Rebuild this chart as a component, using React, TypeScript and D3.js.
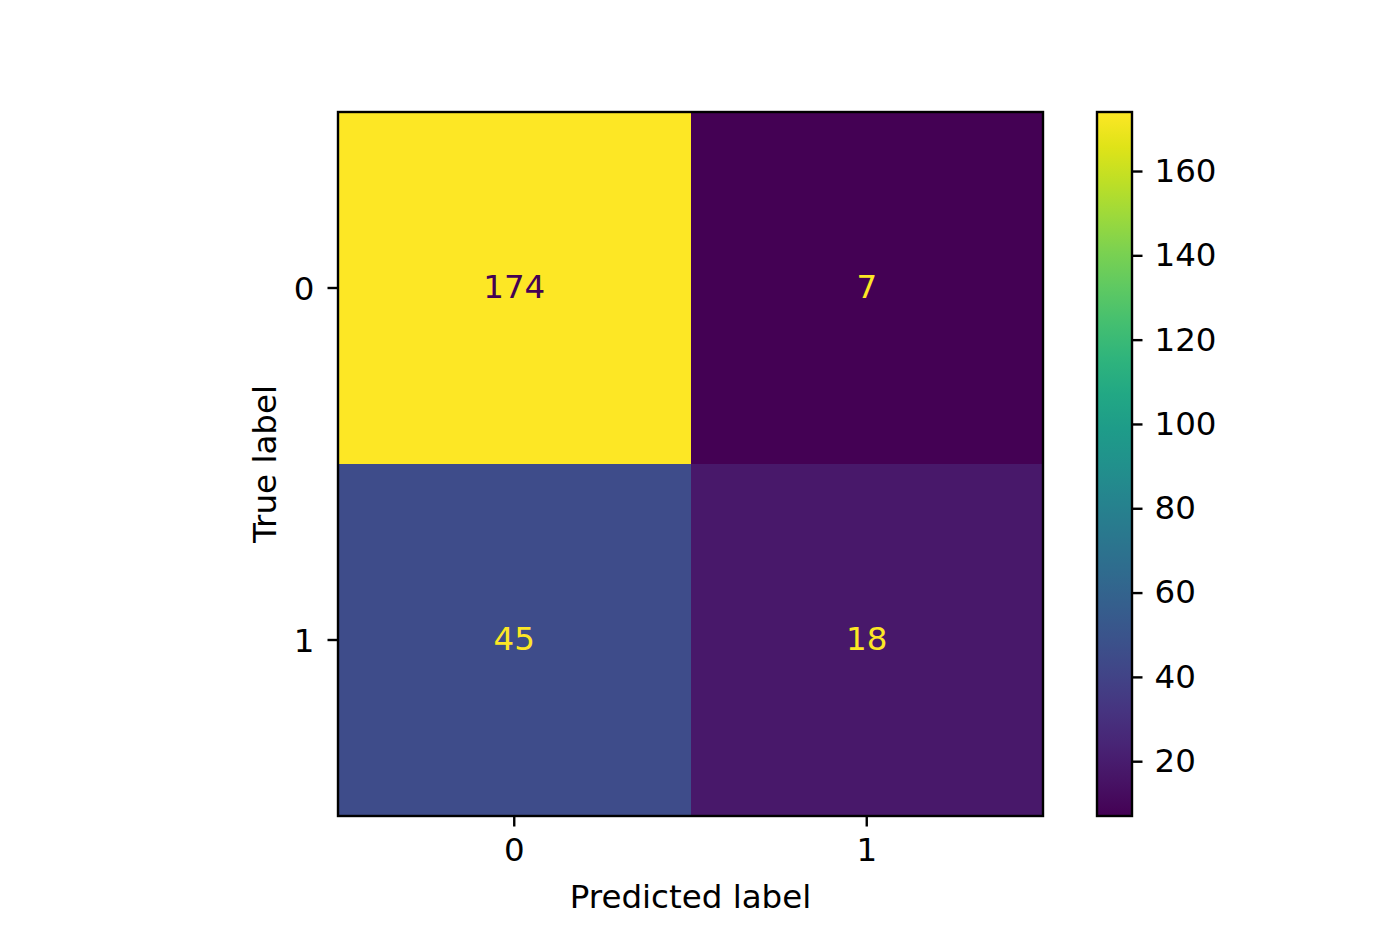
import React, { useEffect, useRef } from "react";
import * as d3 from "d3";

// 클래스 라벨과 혼동행렬 값
const classLabels = ["0", "1"];
const row0 = [174, 7];
const row1 = [45, 18];
const matrixRows = [row0, row1];
const colorbarTicks = [20, 40, 60, 80, 100, 120, 140, 160];

const W = 1400;
const H = 933;
const FONT = "'DejaVu Sans', sans-serif";

const App: React.FC = () => {
  const svgRef = useRef<SVGSVGElement>(null);

  useEffect(() => {
    if (!svgRef.current) return;
    const svg = d3.select(svgRef.current);
    svg.selectAll("*").remove();

    // 축 영역
    const left = 338;
    const right = 1043;
    const top = 112;
    const bottom = 816;
    const fs = 32.5;
    const tickLen = 10.5;
    const lw = 2.4;

    const flat = matrixRows.flat();
    const vmin = d3.min(flat) as number;
    const vmax = d3.max(flat) as number;
    const color = d3.scaleSequential(d3.interpolateViridis).domain([vmin, vmax]);

    const x = d3.scaleBand<string>().domain(classLabels).range([left, right]).padding(0);
    const y = d3.scaleBand<string>().domain(classLabels).range([top, bottom]).padding(0);

    const cells = matrixRows.flatMap((row, i) =>
      row.map((v, j) => ({ r: classLabels[i], c: classLabels[j], v }))
    );

    const g = svg.append("g");

    // 셀
    g.selectAll("rect.cell")
      .data(cells)
      .enter()
      .append("rect")
      .attr("class", "cell")
      .attr("x", (d) => x(d.c)!)
      .attr("y", (d) => y(d.r)!)
      .attr("width", x.bandwidth())
      .attr("height", y.bandwidth())
      .attr("fill", (d) => color(d.v))
      .attr("shape-rendering", "crispEdges");

    // 셀 값 텍스트 (밝은 셀은 어두운 글자)
    const thresh = (vmin + vmax) / 2;
    g.selectAll("text.val")
      .data(cells)
      .enter()
      .append("text")
      .attr("class", "val")
      .attr("x", (d) => x(d.c)! + x.bandwidth() / 2)
      .attr("y", (d) => y(d.r)! + y.bandwidth() / 2)
      .attr("dy", "0.3em")
      .attr("text-anchor", "middle")
      .style("font-family", FONT)
      .style("font-size", `${fs}px`)
      .attr("fill", (d) => (d.v < thresh ? color(vmax) : color(vmin)))
      .text((d) => d.v);

    // 테두리
    g.append("rect")
      .attr("x", left)
      .attr("y", top)
      .attr("width", right - left)
      .attr("height", bottom - top)
      .attr("fill", "none")
      .attr("stroke", "#000")
      .attr("stroke-width", lw);

    // x축 눈금
    classLabels.forEach((c) => {
      const cx = x(c)! + x.bandwidth() / 2;
      g.append("line")
        .attr("x1", cx)
        .attr("x2", cx)
        .attr("y1", bottom)
        .attr("y2", bottom + tickLen)
        .attr("stroke", "#000")
        .attr("stroke-width", lw);
      g.append("text")
        .attr("x", cx)
        .attr("y", bottom + tickLen + 10)
        .attr("dy", "0.76em")
        .attr("text-anchor", "middle")
        .style("font-family", FONT)
        .style("font-size", `${fs}px`)
        .text(c);
    });

    // y축 눈금
    classLabels.forEach((r) => {
      const cy = y(r)! + y.bandwidth() / 2;
      g.append("line")
        .attr("x1", left - tickLen)
        .attr("x2", left)
        .attr("y1", cy)
        .attr("y2", cy)
        .attr("stroke", "#000")
        .attr("stroke-width", lw);
      g.append("text")
        .attr("x", left - tickLen - 13)
        .attr("y", cy)
        .attr("dy", "0.36em")
        .attr("text-anchor", "end")
        .style("font-family", FONT)
        .style("font-size", `${fs}px`)
        .text(r);
    });

    // 축 제목
    g.append("text")
      .attr("x", (left + right) / 2)
      .attr("y", 908)
      .attr("text-anchor", "middle")
      .style("font-family", FONT)
      .style("font-size", `${fs}px`)
      .text("Predicted label");

    g.append("text")
      .attr("transform", `translate(276, ${(top + bottom) / 2}) rotate(-90)`)
      .attr("text-anchor", "middle")
      .style("font-family", FONT)
      .style("font-size", `${fs}px`)
      .text("True label");

    // 컬러바
    const cbLeft = 1097;
    const cbRight = 1132;
    const cbScale = d3.scaleLinear().domain([vmin, vmax]).range([bottom, top]);

    const grad = svg
      .append("defs")
      .append("linearGradient")
      .attr("id", "cbgrad")
      .attr("x1", "0")
      .attr("x2", "0")
      .attr("y1", "1")
      .attr("y2", "0");
    d3.range(0, 1.0001, 0.05).forEach((t) => {
      grad
        .append("stop")
        .attr("offset", `${t * 100}%`)
        .attr("stop-color", d3.interpolateViridis(t));
    });

    g.append("rect")
      .attr("x", cbLeft)
      .attr("y", top)
      .attr("width", cbRight - cbLeft)
      .attr("height", bottom - top)
      .attr("fill", "url(#cbgrad)")
      .attr("stroke", "#000")
      .attr("stroke-width", lw);

    const cbAxis = d3
      .axisRight(cbScale)
      .tickValues(colorbarTicks)
      .tickSize(tickLen)
      .tickPadding(12);
    const cbG = g
      .append("g")
      .attr("transform", `translate(${cbRight}, 0)`)
      .call(cbAxis);
    cbG.select(".domain").remove();
    cbG.selectAll("line").attr("stroke", "#000").attr("stroke-width", lw);
    cbG
      .selectAll("text")
      .style("font-family", FONT)
      .style("font-size", `${fs}px`)
      .attr("fill", "#000");
  }, []);

  return (
    <svg
      ref={svgRef}
      width={W}
      height={H}
      style={{ position: "absolute", left: 0, top: 0, background: "#fff" }}
    />
  );
};

export default App;
